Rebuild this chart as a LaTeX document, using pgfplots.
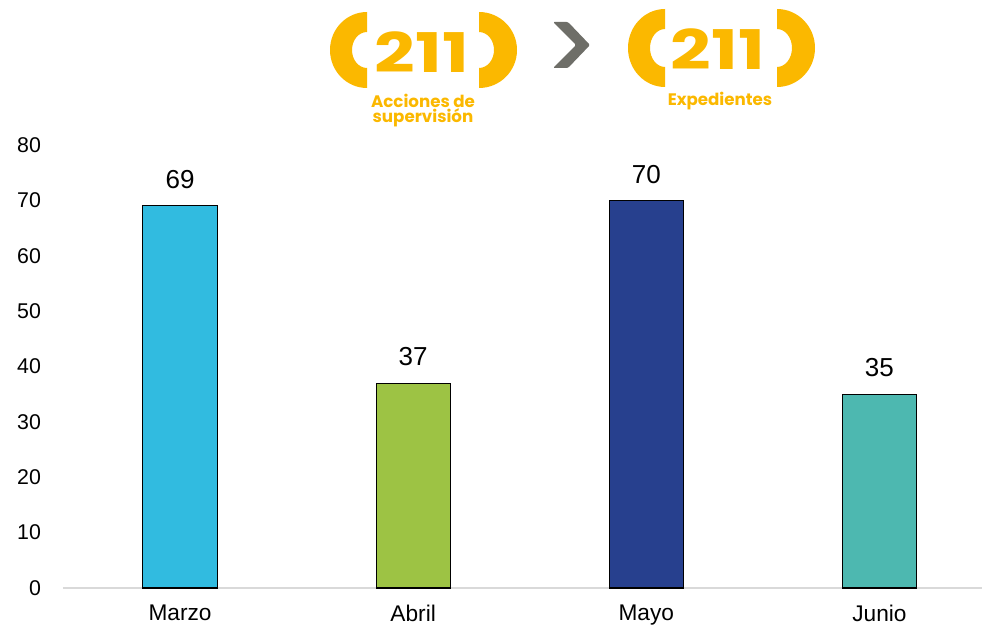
\documentclass[border=0pt]{standalone}
\usepackage{pgfplots}
\pgfplotsset{compat=1.18}
\usepackage{fontspec}
\setmainfont{Liberation Sans}
\newfontfamily\logofont{Poppins}

\definecolor{cMarzo}{RGB}{49,187,224}
\definecolor{cAbril}{RGB}{157,195,68}
\definecolor{cMayo}{RGB}{39,64,142}
\definecolor{cJunio}{RGB}{77,184,176}
\definecolor{logoOrange}{RGB}{251,184,0}
\definecolor{chevGray}{RGB}{110,110,104}
\definecolor{axisGray}{RGB}{217,217,217}

\begin{document}
\begin{tikzpicture}
\begin{axis}[
    at={(0,0)}, anchor=south west,
    scale only axis,
    width=689.25pt, height=332.25pt,
    ybar, bar width=0.318, bar shift=0pt,
    xmin=-0.502, xmax=3.44,
    ymin=0, ymax=80,
    ytick={0,10,...,80},
    xtick={0,1,2,3},
    xticklabels={Marzo,Abril,Mayo,Junio},
    major tick length=0pt,
    axis x line*=bottom, axis y line*=left,
    y axis line style={draw=none},
    x axis line style={draw=axisGray, line width=1pt, -},
    /pgf/number format/assume math mode=true,
    yticklabel style={font=\fontsize{16}{19}\selectfont, text=black, xshift=-13pt},
    xticklabel style={font=\fontsize{17}{20}\selectfont, text=black, yshift=-9pt},
    every node near coord/.append style={font=\fontsize{19.5}{23}\selectfont, text=black, yshift=9pt},
    nodes near coords,
    clip=false,
]
\addplot[fill=cMarzo, draw=black, line width=0.8pt] coordinates {(0,69)};
\addplot[fill=cAbril, draw=black, line width=0.8pt] coordinates {(1,37)};
\addplot[fill=cMayo, draw=black, line width=0.8pt] coordinates {(2,70)};
\addplot[fill=cJunio, draw=black, line width=0.8pt] coordinates {(3,35)};
\end{axis}

% header (pixel coordinates of the reference)
\begin{scope}[x=0.75pt, y=-0.75pt, shift={(-63,-588)}]
  % logo 1
  \fill[logoOrange] (367,12) arc[start angle=270, end angle=90, x radius=37, y radius=38]
      -- (367,68) arc[start angle=90, end angle=270, x radius=15, y radius=18] -- cycle;
  \fill[logoOrange] (479,12) arc[start angle=-90, end angle=90, x radius=38, y radius=38]
      -- (479,68) arc[start angle=90, end angle=-90, x radius=15, y radius=18] -- cycle;
  \node[anchor=base, inner sep=0pt, xscale=1.3, text=logoOrange, font=\logofont\bfseries\fontsize{41}{41}\selectfont] at (422,73) {211};
  \node[anchor=base, inner sep=0pt, text=logoOrange, font=\logofont\bfseries\fontsize{12.5}{11.25}\selectfont, align=center] at (423,123) {Acciones de\\supervisión};
  % chevron
  \fill[chevGray, rounded corners=1pt] (553,22) -- (568,22) -- (590,45) -- (568,68) -- (553,68) -- (576,45) -- cycle;
  % logo 2
  \fill[logoOrange] (665,9) arc[start angle=270, end angle=90, x radius=37, y radius=39]
      -- (665,67) arc[start angle=90, end angle=270, x radius=15, y radius=19] -- cycle;
  \fill[logoOrange] (777,9) arc[start angle=-90, end angle=90, x radius=38, y radius=39]
      -- (777,67) arc[start angle=90, end angle=-90, x radius=15, y radius=19] -- cycle;
  \node[anchor=base, inner sep=0pt, xscale=1.3, text=logoOrange, font=\logofont\bfseries\fontsize{41}{41}\selectfont] at (718,70) {211};
  \node[anchor=base, inner sep=0pt, text=logoOrange, font=\logofont\bfseries\fontsize{12.5}{11.25}\selectfont] at (720,106) {Expedientes};
  \pgfresetboundingbox
  \path[use as bounding box] (0,0) rectangle (982,626);
\end{scope}
\end{tikzpicture}
\end{document}
